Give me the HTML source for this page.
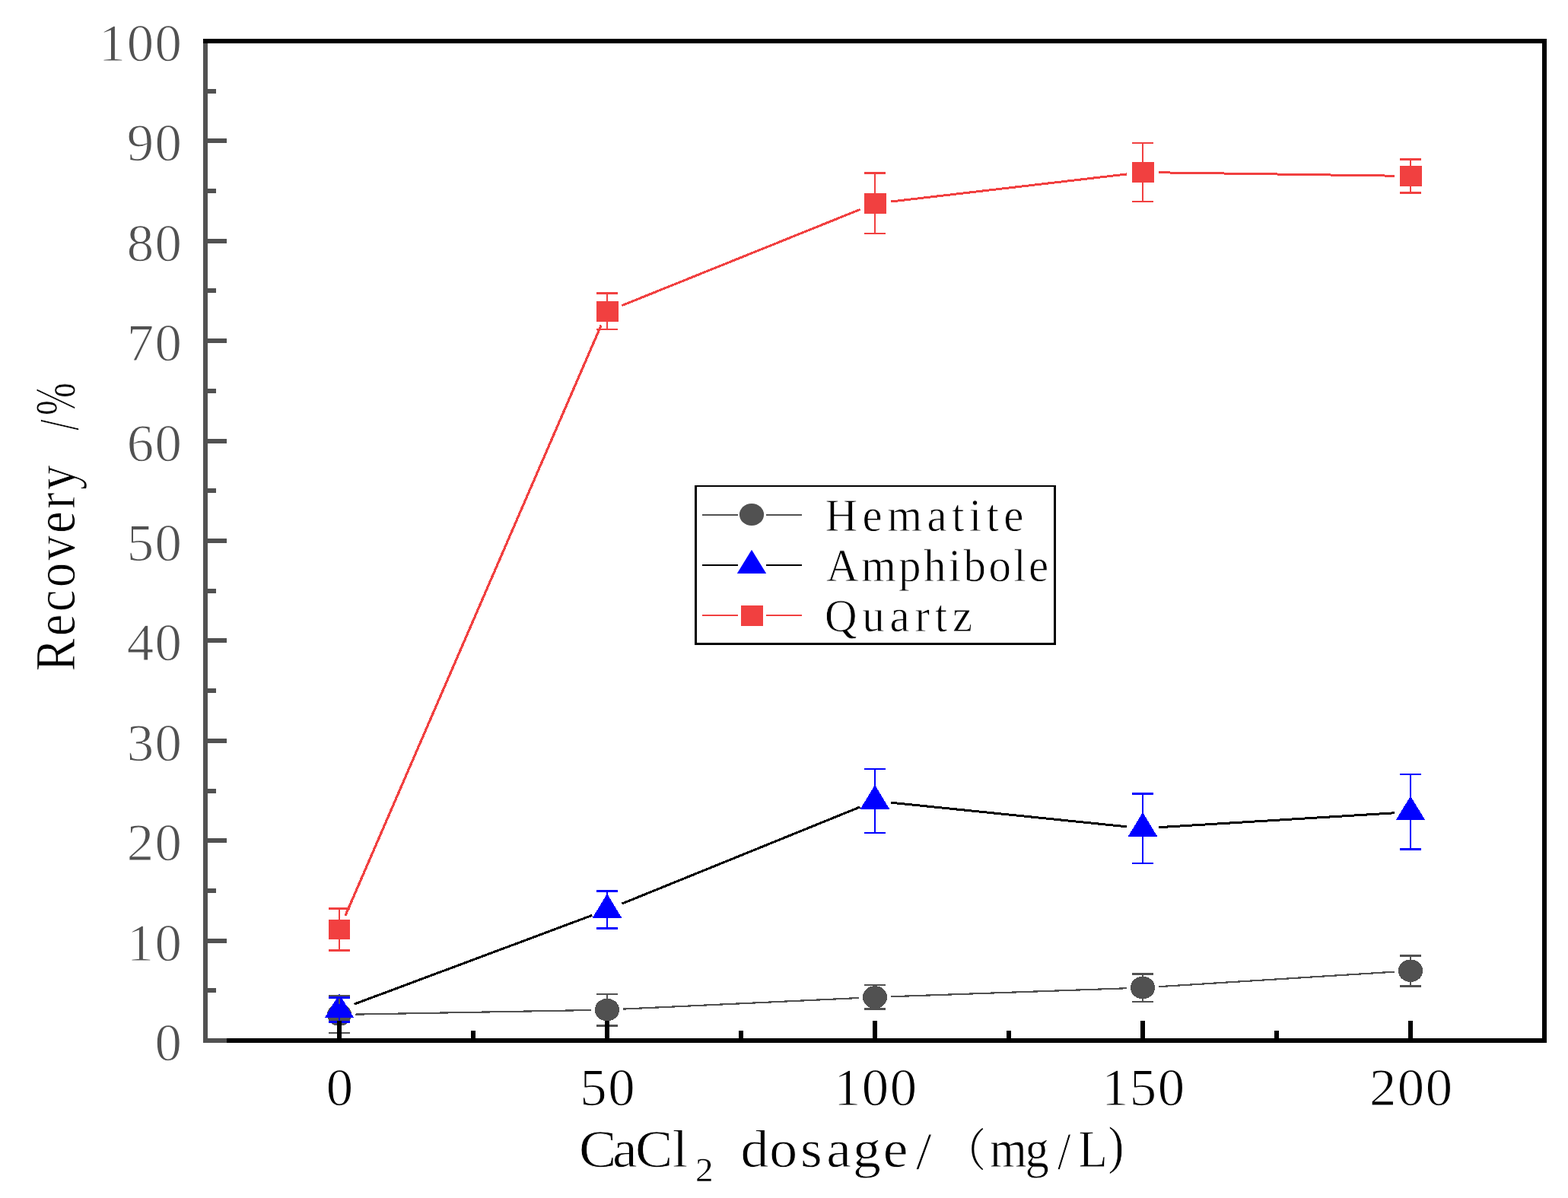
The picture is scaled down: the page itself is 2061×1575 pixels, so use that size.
<!DOCTYPE html>
<html lang="en">
<head>
<meta charset="utf-8">
<title>Recovery /% - CaCl2 dosage/(mg/L)</title>
<style>
html,body{margin:0;padding:0;background:#fff;}
body{width:2061px;height:1575px;overflow:hidden;}
svg{display:block;}
text{font-family:"Liberation Serif","Noto Serif CJK SC",serif;text-rendering:geometricPrecision;}
.d{font-family:"Liberation Serif","Noto Serif CJK SC",serif;font-size:69.4px;letter-spacing:1.476px;stroke:#fff;stroke-width:1.0px;}
.sub{font-size:44.46px;letter-spacing:0;stroke-width:0.4px;}
.s{font-family:"Liberation Serif","Noto Serif CJK SC",serif;fill:#000;stroke:#fff;stroke-width:0.4px;}
.lg{font-size:60.8px;stroke-width:0.8px;}
.ti{font-size:69.6px;stroke-width:0.8px;}
.fw{font-family:"Liberation Serif","Noto Serif CJK SC",serif;font-size:59px;font-weight:300;stroke:none;}
</style>
</head>
<body>
<svg width="2061" height="1575" viewBox="0 0 2061 1575">
<rect x="0" y="0" width="2061" height="1575" fill="#ffffff"/>
<g id="series" shape-rendering="crispEdges">
<path transform="scale(1.08 1)" d="M432.56 1333.62L719.29 1327.98M758.46 1326.6L1045.24 1312M1084.4 1310.25L1371.16 1299.25M1410.3 1297.17L1697.11 1277.63" stroke="#515151" stroke-width="2.2" fill="none"/>
<ellipse cx="446" cy="1334" rx="16.1" ry="14.8" fill="#515151"/>
<ellipse cx="798" cy="1327.6" rx="16.1" ry="14.8" fill="#515151"/>
<ellipse cx="1150" cy="1311" rx="16.1" ry="14.8" fill="#515151"/>
<ellipse cx="1502" cy="1298.5" rx="16.1" ry="14.8" fill="#515151"/>
<ellipse cx="1854" cy="1276.3" rx="16.1" ry="14.8" fill="#515151"/>
<path transform="scale(1.08 1)" d="M431.14 1320.17L720.71 1203.33M756.84 1188.13L1046.87 1060.87M1084.3 1055.15L1371.26 1086.85M1410.3 1087.71L1697.11 1068.79" stroke="#000000" stroke-width="3.0" fill="none"/>
<path d="M446 1306.5L465.2 1338.1L426.8 1338.1Z" fill="#0000ff"/>
<path d="M798 1175L817.2 1206.6L778.8 1206.6Z" fill="#0000ff"/>
<path d="M1150 1032L1169.2 1063.6L1130.8 1063.6Z" fill="#0000ff"/>
<path d="M1502 1068L1521.2 1099.6L1482.8 1099.6Z" fill="#0000ff"/>
<path d="M1854 1046.5L1873.2 1078.1L1834.8 1078.1Z" fill="#0000ff"/>
<rect x="444.9" y="1308" width="2.2" height="11.7" fill="#515151"/>
<rect x="444.9" y="1348.3" width="2.2" height="10.7" fill="#515151"/>
<rect x="432" y="1308" width="28" height="2" fill="#515151"/>
<rect x="432" y="1357" width="28" height="2" fill="#515151"/>
<rect x="796.9" y="1306" width="2.2" height="7.3" fill="#515151"/>
<rect x="796.9" y="1341.9" width="2.2" height="8.1" fill="#515151"/>
<rect x="784" y="1306" width="28" height="2" fill="#515151"/>
<rect x="784" y="1347" width="28" height="3" fill="#515151"/>
<rect x="1148.9" y="1294" width="2.2" height="2.7" fill="#515151"/>
<rect x="1148.9" y="1325.3" width="2.2" height="2.7" fill="#515151"/>
<rect x="1136" y="1294" width="28" height="2" fill="#515151"/>
<rect x="1136" y="1325" width="28" height="3" fill="#515151"/>
<rect x="1500.9" y="1279" width="2.2" height="5.2" fill="#515151"/>
<rect x="1500.9" y="1312.8" width="2.2" height="5.2" fill="#515151"/>
<rect x="1488" y="1279" width="28" height="3" fill="#515151"/>
<rect x="1488" y="1316" width="28" height="2" fill="#515151"/>
<rect x="1852.9" y="1255" width="2.2" height="7" fill="#515151"/>
<rect x="1852.9" y="1290.6" width="2.2" height="7.4" fill="#515151"/>
<rect x="1840" y="1255" width="28" height="3" fill="#515151"/>
<rect x="1840" y="1295" width="28" height="3" fill="#515151"/>
<rect x="444.9" y="1320" width="2.2" height="18.2" fill="#0000ff"/>
<rect x="444.8" y="1337.6" width="2.4" height="7.4" fill="#0000ff"/>
<rect x="432" y="1310" width="28" height="3" fill="#0000ff"/>
<rect x="432" y="1342" width="28" height="3" fill="#0000ff"/>
<rect x="796.8" y="1170" width="2.4" height="5.9" fill="#0000ff"/>
<rect x="796.8" y="1206.1" width="2.4" height="15.9" fill="#0000ff"/>
<rect x="784" y="1170" width="28" height="3" fill="#0000ff"/>
<rect x="784" y="1219" width="28" height="3" fill="#0000ff"/>
<rect x="1148.8" y="1010" width="2.4" height="22.9" fill="#0000ff"/>
<rect x="1148.8" y="1063.1" width="2.4" height="32.9" fill="#0000ff"/>
<rect x="1136" y="1010" width="28" height="2" fill="#0000ff"/>
<rect x="1136" y="1094" width="28" height="2" fill="#0000ff"/>
<rect x="1500.8" y="1042" width="2.4" height="26.9" fill="#0000ff"/>
<rect x="1500.8" y="1099.1" width="2.4" height="36.9" fill="#0000ff"/>
<rect x="1488" y="1042" width="28" height="3" fill="#0000ff"/>
<rect x="1488" y="1134" width="28" height="2" fill="#0000ff"/>
<rect x="1852.8" y="1017" width="2.4" height="30.4" fill="#0000ff"/>
<rect x="1852.8" y="1077.6" width="2.4" height="40.4" fill="#0000ff"/>
<rect x="1840" y="1017" width="28" height="2" fill="#0000ff"/>
<rect x="1840" y="1115" width="28" height="3" fill="#0000ff"/>
<path transform="scale(1.08 1)" d="M420.26 1203.81L731.59 427.69M756.86 401.67L1046.85 275.33M1084.26 265.05L1371.29 228.95M1410.34 226.8L1697.07 231.2" stroke="#f14040" stroke-width="3.0" fill="none"/>
<rect x="444.8" y="1193" width="2.4" height="16" fill="#f14040"/>
<rect x="444.8" y="1235" width="2.4" height="16" fill="#f14040"/>
<rect x="432" y="1193" width="28" height="3" fill="#f14040"/>
<rect x="432" y="1248" width="28" height="3" fill="#f14040"/>
<rect x="796.8" y="384" width="2.4" height="12.5" fill="#f14040"/>
<rect x="796.8" y="422.5" width="2.4" height="11.5" fill="#f14040"/>
<rect x="784" y="384" width="28" height="3" fill="#f14040"/>
<rect x="784" y="432" width="28" height="2" fill="#f14040"/>
<rect x="1148.8" y="226" width="2.4" height="28.5" fill="#f14040"/>
<rect x="1148.8" y="280.5" width="2.4" height="27.5" fill="#f14040"/>
<rect x="1136" y="226" width="28" height="3" fill="#f14040"/>
<rect x="1136" y="306" width="28" height="2" fill="#f14040"/>
<rect x="1500.8" y="187" width="2.4" height="26.5" fill="#f14040"/>
<rect x="1500.8" y="239.5" width="2.4" height="26.5" fill="#f14040"/>
<rect x="1488" y="187" width="28" height="2" fill="#f14040"/>
<rect x="1488" y="264" width="28" height="2" fill="#f14040"/>
<rect x="1852.8" y="208" width="2.4" height="10.5" fill="#f14040"/>
<rect x="1852.8" y="244.5" width="2.4" height="10.5" fill="#f14040"/>
<rect x="1840" y="208" width="28" height="3" fill="#f14040"/>
<rect x="1840" y="252" width="28" height="3" fill="#f14040"/>
<rect x="432" y="1209" width="28" height="26" fill="#f14040"/>
<rect x="784" y="396" width="29" height="27" fill="#f14040"/>
<rect x="1136" y="254" width="29" height="27" fill="#f14040"/>
<rect x="1488" y="213" width="29" height="27" fill="#f14040"/>
<rect x="1840" y="218" width="29" height="27" fill="#f14040"/>
</g>
<g id="axes" shape-rendering="crispEdges">
<rect x="267" y="57" width="6" height="1314" fill="#515151"/>
<rect x="267" y="1365" width="1766" height="6" fill="#000000"/>
<rect x="2027" y="51" width="6" height="1320" fill="#000000"/>
<rect x="267" y="51" width="1766" height="6" fill="#000000"/>
<rect x="267" y="1365" width="31" height="6" fill="#515151"/>
<rect x="273" y="1299" width="11" height="6" fill="#515151"/>
<rect x="273" y="1234" width="25" height="6" fill="#515151"/>
<rect x="273" y="1168" width="11" height="6" fill="#515151"/>
<rect x="273" y="1102" width="25" height="6" fill="#515151"/>
<rect x="273" y="1037" width="11" height="6" fill="#515151"/>
<rect x="273" y="971" width="25" height="6" fill="#515151"/>
<rect x="273" y="905" width="11" height="6" fill="#515151"/>
<rect x="273" y="839" width="25" height="6" fill="#515151"/>
<rect x="273" y="774" width="11" height="6" fill="#515151"/>
<rect x="273" y="708" width="25" height="6" fill="#515151"/>
<rect x="273" y="642" width="11" height="6" fill="#515151"/>
<rect x="273" y="577" width="25" height="6" fill="#515151"/>
<rect x="273" y="511" width="11" height="6" fill="#515151"/>
<rect x="273" y="445" width="25" height="6" fill="#515151"/>
<rect x="273" y="379" width="11" height="6" fill="#515151"/>
<rect x="273" y="314" width="25" height="6" fill="#515151"/>
<rect x="273" y="248" width="11" height="6" fill="#515151"/>
<rect x="273" y="182" width="25" height="6" fill="#515151"/>
<rect x="273" y="117" width="11" height="6" fill="#515151"/>
<rect x="443" y="1342" width="6" height="23" fill="#000000"/>
<rect x="619" y="1355" width="6" height="10" fill="#000000"/>
<rect x="795" y="1342" width="6" height="23" fill="#000000"/>
<rect x="971" y="1355" width="6" height="10" fill="#000000"/>
<rect x="1147" y="1342" width="6" height="23" fill="#000000"/>
<rect x="1323" y="1355" width="6" height="10" fill="#000000"/>
<rect x="1499" y="1342" width="6" height="23" fill="#000000"/>
<rect x="1675" y="1355" width="6" height="10" fill="#000000"/>
<rect x="1851" y="1342" width="6" height="23" fill="#000000"/>
</g>
<g id="ticklabels">
<text class="d" transform="translate(203.55 1394) scale(1.02 1)" fill="#515151">0</text>
<text class="d" transform="translate(166.65 1262.6) scale(1.02 1)" fill="#515151">10</text>
<text class="d" transform="translate(166.65 1131.2) scale(1.02 1)" fill="#515151">20</text>
<text class="d" transform="translate(166.65 999.8) scale(1.02 1)" fill="#515151">30</text>
<text class="d" transform="translate(166.65 868.4) scale(1.02 1)" fill="#515151">40</text>
<text class="d" transform="translate(166.65 737) scale(1.02 1)" fill="#515151">50</text>
<text class="d" transform="translate(166.65 605.6) scale(1.02 1)" fill="#515151">60</text>
<text class="d" transform="translate(166.65 474.2) scale(1.02 1)" fill="#515151">70</text>
<text class="d" transform="translate(166.65 342.8) scale(1.02 1)" fill="#515151">80</text>
<text class="d" transform="translate(166.65 211.4) scale(1.02 1)" fill="#515151">90</text>
<text class="d" transform="translate(129.75 80) scale(1.02 1)" fill="#515151">100</text>
<text class="d" transform="translate(428.8 1452.9) scale(1.02 1)" fill="#000000">0</text>
<text class="d" transform="translate(762.35 1452.9) scale(1.02 1)" fill="#000000">50</text>
<text class="d" transform="translate(1095.9 1452.9) scale(1.02 1)" fill="#000000">100</text>
<text class="d" transform="translate(1447.9 1452.9) scale(1.02 1)" fill="#000000">150</text>
<text class="d" transform="translate(1799.9 1452.9) scale(1.02 1)" fill="#000000">200</text>
</g>
<g id="legendtext">
<text class="s lg" transform="translate(1087.2 697.5) scale(0.97 1)" x="-2.68 47.81 81.38 135.25 168.82 192.3 215.77 239.25" y="0">Hematite</text>
<text class="s lg" transform="translate(1087.2 763.5) scale(0.97 1)" x="-1.32 46.07 96.83 130.71 164.58 184.95 218.82 252.69 273.06" y="0">Amphibole</text>
<text class="s lg" transform="translate(1087.2 829.9) scale(0.97 1)" x="-3.42 47.46 84.83 118.78 146 169.86" y="0">Quartz</text>
</g>
<g id="xtitle">
<text class="s ti" transform="translate(764.9 1534.3) scale(1.06 1)"><tspan x="-3.8 37.75 66.24 112.17" y="0">CaCl</tspan><tspan class="sub" x="140.57" y="18.6">2</tspan> <tspan x="196.72 232.36 270.86 303.19 335.97 373.41 414.15" y="0 0 0 0 0 0 2.5">dosage/</tspan></text>
<text class="s ti" transform="translate(1306.4 1534.3) scale(0.9 1)"><tspan class="fw" x="-70.89" y="-1.8">（</tspan><tspan x="-5.91 45.81 92.83 123.33 166.65" y="0 0 2.5 0 -5">mg/L)</tspan></text>
</g>
<g id="ytitle">
<text class="s ti" transform="translate(98.3 882.5) rotate(-90) scale(0.93 1.08)" x="-0.07 49.86 84.25 118.65 156.95 195.26 229.65 256.33" y="0">Recovery</text>
<text class="s ti" transform="translate(98.3 575.6) rotate(-90) scale(0.74 1.08)" x="13.37 40.13" y="4 0">/%</text>
</g>
<g id="legend" shape-rendering="crispEdges">
<rect x="913" y="638" width="475" height="2.4" fill="#000000"/>
<rect x="913" y="845.2" width="475" height="2.8" fill="#000000"/>
<rect x="913" y="638" width="3" height="210" fill="#000000"/>
<rect x="1385.2" y="638" width="2.8" height="210" fill="#000000"/>
<rect x="923" y="676" width="47" height="2" fill="#515151"/>
<rect x="1007" y="676" width="47" height="2" fill="#515151"/>
<rect x="923" y="741.8" width="47" height="2.4" fill="#000000"/>
<rect x="1007" y="741.8" width="47" height="2.4" fill="#000000"/>
<rect x="923" y="808" width="47" height="2" fill="#f14040"/>
<rect x="1007" y="808" width="47" height="2" fill="#f14040"/>
</g>
<ellipse cx="988" cy="676.5" rx="16.1" ry="14.6" fill="#515151"/>
<path d="M988 722.8L1007.2 754L968.8 754Z" fill="#0000ff"/>
<rect x="974" y="796" width="29" height="27" fill="#f14040"/>
</svg>
</body>
</html>
